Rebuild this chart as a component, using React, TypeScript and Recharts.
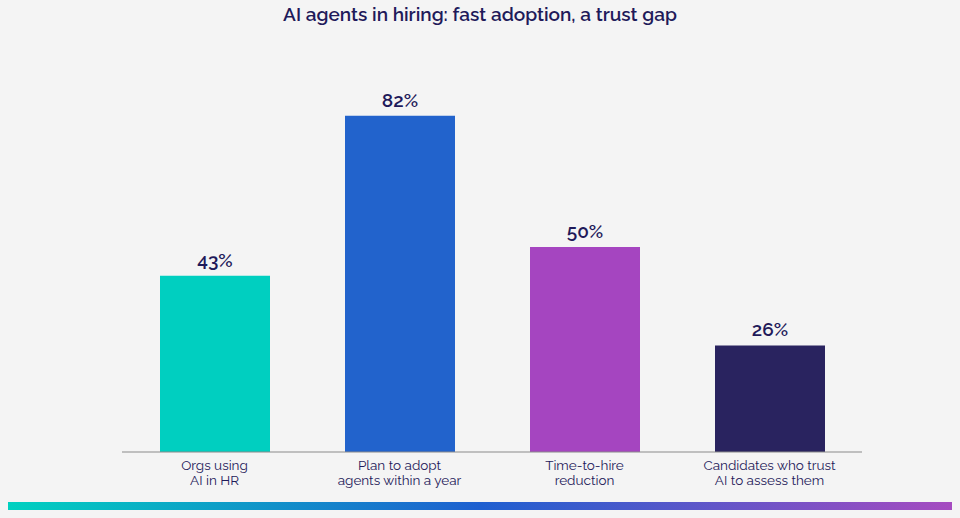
import { BarChart, Bar, XAxis, YAxis, Cell, LabelList } from "recharts";

const categories = [
  ["Orgs using", "AI in HR"],
  ["Plan to adopt", "agents within a year"],
  ["Time-to-hire", "reduction"],
  ["Candidates who trust", "AI to assess them"],
];
const values = [43, 82, 50, 26];
const barColors = ["#00cfc0", "#2263cc", "#a545c0", "#29235f"];

const data = categories.map((lines, i) => ({
  name: lines.join("\n"),
  value: values[i],
}));

const ink = "#1f1a5a";
const font = "Raleway, 'Open Sans', Lato, sans-serif";

function Tick({ x, y, payload }: any) {
  const lines = String(payload.value).split("\n");
  return (
    <text x={x} y={y} textAnchor="middle" fill={ink} fontSize={13.5} fontFamily={font}>
      {lines.map((l, i) => (
        <tspan key={i} x={x} dy={i === 0 ? 10 : 15}>{l}</tspan>
      ))}
    </text>
  );
}

export default function App() {
  return (
    <div style={{ position: "absolute", left: 0, top: 0, width: 960, height: 518, background: "#f4f4f4", fontFamily: font }}>
      <div style={{ position: "absolute", top: 3, width: 960, textAlign: "center", fontSize: 19, fontWeight: 600, color: ink }}>
        AI agents in hiring: fast adoption, a trust gap
      </div>
      <BarChart width={960} height={518} data={data} margin={{ top: 42, left: 122, right: 98, bottom: 36 }}>
        <YAxis hide domain={[0, 100]} />
        <XAxis dataKey="name" tick={<Tick />} tickLine={false} interval={0} stroke="#8a8a8a" />
        <Bar dataKey="value" barSize={110} isAnimationActive={false}>
          {data.map((_, i) => <Cell key={i} fill={barColors[i]} />)}
          <LabelList dataKey="value" position="top" offset={9} formatter={(v: any) => `${v}%`}
            style={{ fill: ink, fontSize: 19, fontWeight: 600, fontFamily: font }} />
        </Bar>
      </BarChart>
      <div style={{ position: "absolute", left: 8, top: 502, width: 944, height: 8,
        background: "linear-gradient(to right, #00d1c0, #1e5fd0 50%, #a64bc0)" }} />
    </div>
  );
}
